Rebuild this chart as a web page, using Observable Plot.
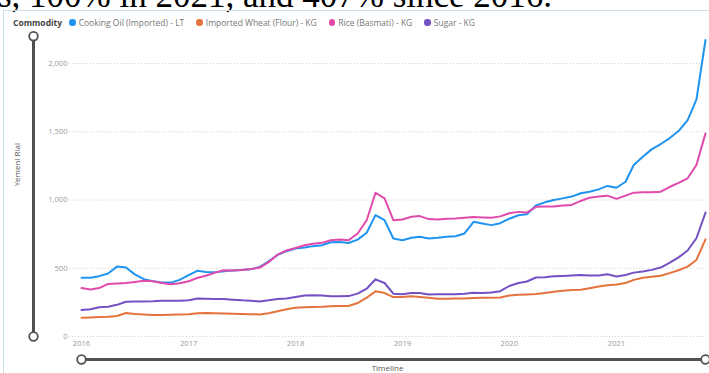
<!DOCTYPE html>
<html>
<head>
<meta charset="utf-8">
<script src="https://cdn.jsdelivr.net/npm/d3@7"></script>
<script src="https://cdn.jsdelivr.net/npm/@observablehq/plot@0.6"></script>
<style>
  html, body { margin: 0; padding: 0; background: #fff; }
  #wrap { position: relative; width: 709px; height: 373px; overflow: hidden; }
  #top { position: absolute; left: 0; top: 0; }
  #panel { position: absolute; left: 3px; top: 10px; width: 720px; height: 400px;
           border-top: 1px solid #cadde8; border-left: 1px solid #cadde8; }
  #legend { position: absolute; left: 13px; top: 17px; display: flex; align-items: center;
            font-family: "Open Sans", sans-serif; font-size: 8.5px; color: #777; white-space: nowrap; }
  #legend b { color: #444; margin-right: 7px; }
  #legend .item { display: flex; align-items: center; margin-right: 12px; }
  #legend .sw { width: 6.5px; height: 6.5px; border-radius: 50%; margin-right: 3px; }
  #chart { position: absolute; left: 0; top: 0; }
</style>
</head>
<body>
<div id="wrap">
  <svg id="top" width="709" height="20"><text x="-2" y="7" font-family="'Liberation Serif', 'Times New Roman', serif" font-size="35" fill="#000">s, 100% in 2021, and 407% since 2016.</text></svg>
  <div id="panel"></div>
  <div id="legend"></div>
  <div id="chart"></div>
</div>
<script>
const seriesNames = ["Cooking Oil (Imported) - LT", "Imported Wheat (Flour) - KG", "Rice (Basmati) - KG", "Sugar - KG"];
const seriesColors = ["#1F93F0", "#E5733D", "#E04AAB", "#7550C4"];
const legendTitle = "Commodity";
const yAxisTitle = "Yemeni Rial";
const xAxisTitle = "Timeline";
const yTicks = [0, 500, 1000, 1500, 2000];

// Monthly, Jan 2016 – Nov 2021
const cookingOil = [430,430,442,462,512,505,455,420,405,395, 395,415,450,482,473,470,478,484,487,492,
  510,550,598,625,645,652,662,669,690,693, 685,710,760,889,852,718,705,723,730,718,
  723,730,735,755,840,828,816, 830,863,888,895,960,983,1000,1012,1025,1049,
  1061,1078,1103,1090,1134,1256,1317,1371,1410,1452, 1505,1585,1735,2172];
const wheat = [137,140,142,144,150,172,165,162,158,158, 160,162,163,170,172,170,168,166,165,163,
  162,170,185,200,210,215,216,218,222,223, 223,245,284,331,318,289,289,294,290,284,
  277,277,278,279,282,283,284, 285,300,305,308,312,318,328,335,340,342,
  354,366,375,381,392,415,430,437,445,464, 485,512,561,712];
const rice = [355,345,355,385,388,392,400,408,405,392, 383,390,405,430,445,468,485,483,488,495,
  505,545,600,630,648,668,680,686,705,710, 705,755,852,1053,1012,852,857,877,882,860,
  857,862,865,870,875,872,870, 880,903,913,908,950,952,953,959,964,993,
  1017,1025,1032,1008,1032,1054,1056,1056,1061,1095, 1125,1159,1256,1488];
const sugar = [195,200,215,218,232,255,257,257,258,262, 262,262,266,278,276,275,274,270,265,262,
  257,265,275,278,290,300,302,300,294,294, 296,314,350,419,392,314,309,318,318,308,
  309,309,310,313,320,318,322, 332,370,392,403,432,434,442,444,447,451,
  447,447,456,439,451,468,476,488,505,540, 580,630,720,908];

const months = d3.utcMonths(new Date(Date.UTC(2016, 0, 1)), new Date(Date.UTC(2021, 11, 1)));
const xTicks = d3.utcYears(new Date(Date.UTC(2016, 0, 1)), new Date(Date.UTC(2021, 1, 1)));
const allSeries = [cookingOil, wheat, rice, sugar];
const data = allSeries.flatMap((vals, i) => vals.map((v, j) => ({date: months[j], value: v, series: seriesNames[i]})));

// legend
const legend = document.getElementById("legend");
legend.innerHTML = `<b>${legendTitle}</b>` + seriesNames.map((n, i) =>
  `<span class="item"><span class="sw" style="background:${seriesColors[i]}"></span>${n}</span>`).join("");

const first = months[0], last = months[months.length - 1];
const yTop = 2200;

const chart = Plot.plot({
  width: 709,
  height: 373,
  marginLeft: 81,
  marginRight: 4,
  marginTop: 35.7,
  marginBottom: 37,
  style: {fontFamily: "'Open Sans', sans-serif", fontSize: "7.6px", background: "transparent", overflow: "visible"},
  x: {type: "utc", domain: [first, last]},
  y: {domain: [0, yTop]},
  color: {domain: seriesNames, range: seriesColors},
  marks: [
    Plot.ruleY(yTicks, {stroke: "#d6d6d6", strokeDasharray: "1.2,1.8", insetLeft: -12}),
    Plot.axisY(yTicks, {tickSize: 0, tickPadding: 14, tickFormat: d3.format(","), color: "#9a9a9a", label: null}),
    Plot.axisX(xTicks, {tickSize: 0, tickPadding: 4, tickFormat: d3.utcFormat("%Y"), color: "#9a9a9a", label: null}),
    Plot.line(data, {x: "date", y: "value", stroke: "series", strokeWidth: 2, curve: "linear"}),
    // vertical range slicer
    Plot.ruleX([first], {x: d => d, y1: () => 0, y2: () => yTop, dx: -48, stroke: "#505050", strokeWidth: 3}),
    Plot.dot([0, yTop], {x: () => first, y: d => d, dx: -48, r: 4.3, fill: "white", stroke: "#505050", strokeWidth: 1.8}),
    // horizontal range slicer
    Plot.ruleY([0], {y: d => d, x1: () => first, x2: () => last, dy: 23, stroke: "#505050", strokeWidth: 3}),
    Plot.dot([first, last], {x: d => d, y: () => 0, dy: 23, r: 4.3, fill: "white", stroke: "#505050", strokeWidth: 1.8}),
    Plot.text([yAxisTitle], {frameAnchor: "left", dx: -64, rotate: -90, fill: "#555", fontSize: 8}),
    Plot.text([xAxisTitle], {frameAnchor: "bottom", dy: 34, dx: -6, fill: "#555", fontSize: 8})
  ]
});
document.getElementById("chart").appendChild(chart);
</script>
</body>
</html>
